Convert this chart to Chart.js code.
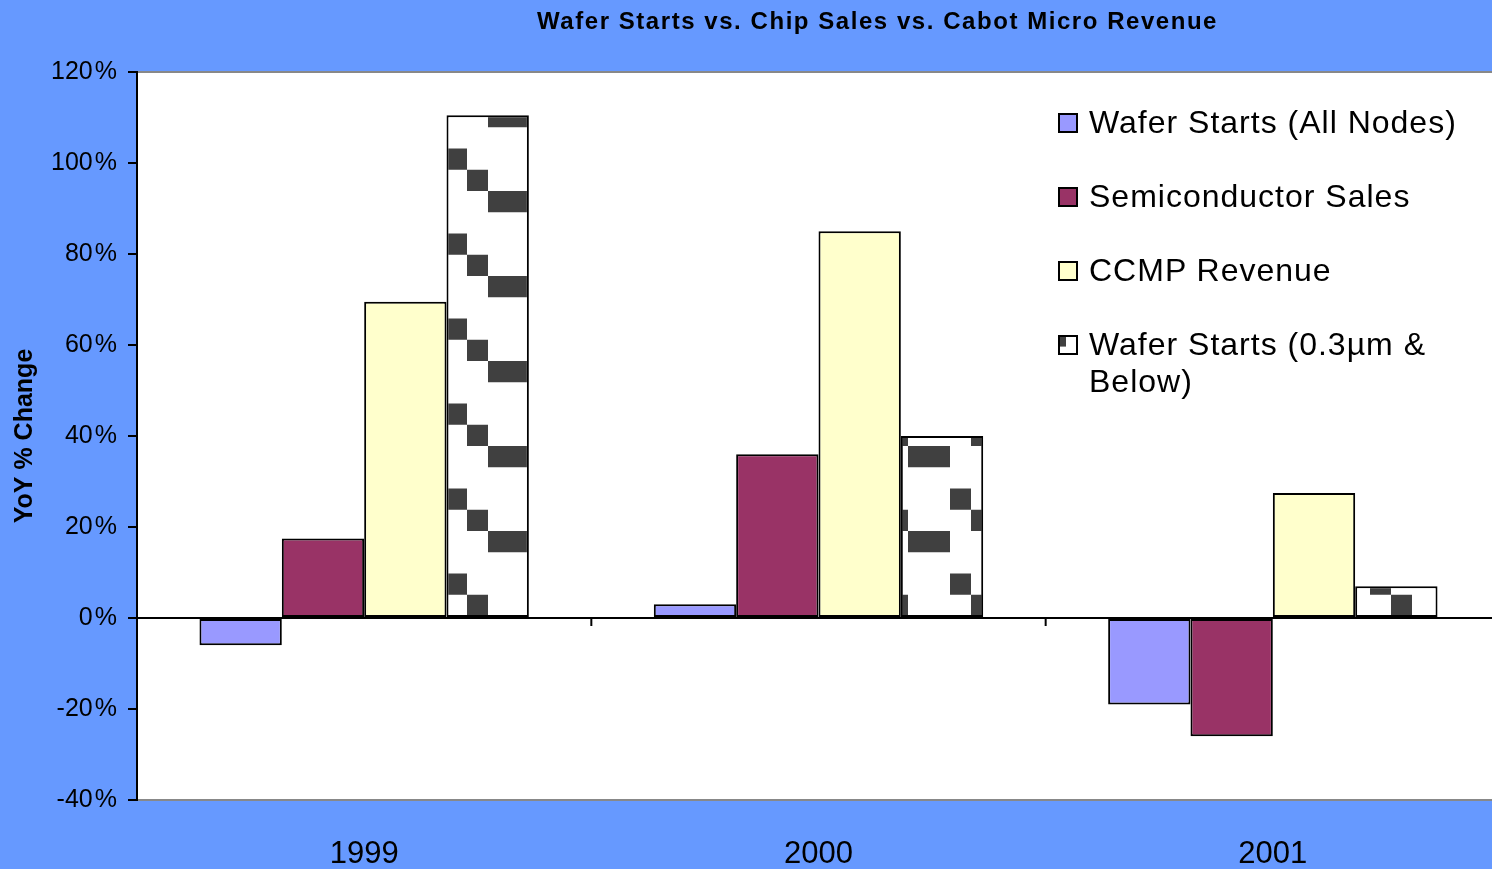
<!DOCTYPE html>
<html>
<head>
<meta charset="utf-8">
<script src="https://cdn.jsdelivr.net/npm/chart.js@4/dist/chart.umd.min.js"></script>
<style>
  html, body { margin: 0; padding: 0; overflow: hidden; background: #6699FF; }
  #wrap { position: relative; width: 1500px; height: 869px; }
  #title {
    position: absolute; left: 537px; top: 7px; white-space: nowrap;
    font: bold 24px "Liberation Sans", Arial, sans-serif; color: #000; letter-spacing: 1.55px;
  }
  #legend {
    position: absolute; left: 1058px; top: 104px;
    font: 32px "Liberation Sans", Arial, sans-serif; color: #000; letter-spacing: 1px;
  }
  .item { position: relative; padding-left: 31px; line-height: 37px; margin-bottom: 37px; }
  .box { position: absolute; left: 0; top: 9px; width: 16px; height: 16px; border: 2px solid #000; }
</style>
</head>
<body>
<div id="wrap">
  <canvas id="chart" width="1500" height="869"></canvas>
  <div id="title">Wafer Starts vs. Chip Sales vs. Cabot Micro Revenue</div>
  <div id="legend"></div>
</div>
<script>
const years = ['1999', '2000', '2001'];
const seriesNames = ['Wafer Starts (All Nodes)', 'Semiconductor Sales', 'CCMP Revenue', 'Wafer Starts (0.3µm & Below)'];
const waferAll = [-6, 3, -19];
const chipSales = [17.5, 36, -26];
const ccmpRevenue = [69.5, 85, 27.5];
const waferSmall = [110.5, 40, 7];
const yTicks = [-40, -20, 0, 20, 40, 60, 80, 100, 120];

// checker-ish pattern used by the 0.3um series
function makePattern(ctx) {
  const tile = document.createElement('canvas');
  tile.width = 84; tile.height = 85;
  const t = tile.getContext('2d');
  t.fillStyle = '#fff';
  t.fillRect(0, 0, 84, 85);
  t.fillStyle = '#404040';
  const h = 85 / 4;
  t.fillRect(42, 0, 42, h);
  t.fillRect(0, 2 * h, 21, h);
  t.fillRect(21, 3 * h, 21, h);
  const p = ctx.createPattern(tile, 'repeat');
  p.setTransform(new DOMMatrix().translate(446 % 84, 106 % 85));
  return p;
}

const canvas = document.getElementById('chart');
const ctx = canvas.getContext('2d');
const pattern = makePattern(ctx);

const fills = ['#9999FF', '#993366', '#FFFFCC', pattern];
const values = [waferAll, chipSales, ccmpRevenue, waferSmall];

// html legend, last entry wraps like the original
const legendEl = document.getElementById('legend');
seriesNames.forEach((name, i) => {
  const item = document.createElement('div');
  item.className = 'item';
  const box = document.createElement('span');
  box.className = 'box';
  if (i === 3) {
    box.style.background = 'linear-gradient(90deg, #404040 0 40%, #fff 40%) top left / 100% 60% no-repeat, #fff';
  } else {
    box.style.background = fills[i];
  }
  item.appendChild(box);
  if (i === 3) {
    item.appendChild(document.createTextNode(name.replace(' Below)', '')));
    item.appendChild(document.createElement('br'));
    item.appendChild(document.createTextNode('Below)'));
  } else {
    item.appendChild(document.createTextNode(name));
  }
  legendEl.appendChild(item);
});

const plotArea = {
  id: 'plotArea',
  beforeDraw(chart) {
    const {ctx, chartArea: a} = chart;
    ctx.save();
    ctx.fillStyle = '#fff';
    ctx.fillRect(a.left, a.top, a.right - a.left, a.bottom - a.top);
    ctx.strokeStyle = '#888';
    ctx.lineWidth = 2;
    ctx.beginPath();
    ctx.moveTo(a.left, a.top);
    ctx.lineTo(a.right, a.top);
    ctx.stroke();
    ctx.restore();
  },
  afterDatasetsDraw(chart) {
    // category tick marks hanging from the zero line
    const {ctx, scales: {x, y}} = chart;
    const y0 = y.getPixelForValue(0);
    ctx.save();
    ctx.strokeStyle = '#000';
    ctx.lineWidth = 2;
    for (let i = 1; i < years.length; i++) {
      const px = (x.getPixelForTick(i - 1) + x.getPixelForTick(i)) / 2;
      ctx.beginPath();
      ctx.moveTo(px, y0);
      ctx.lineTo(px, y0 + 8);
      ctx.stroke();
    }
    ctx.restore();
  }
};

new Chart(canvas, {
  type: 'bar',
  data: {
    labels: years,
    datasets: seriesNames.map((name, i) => ({
      label: name,
      data: values[i],
      backgroundColor: fills[i],
      borderColor: '#000',
      borderWidth: 2,
      borderSkipped: false,
      barPercentage: 1,
      categoryPercentage: 0.725
    }))
  },
  options: {
    responsive: false,
    animation: false,
    layout: {padding: {top: 72, left: 0, right: 0, bottom: 0}},
    plugins: {
      legend: {display: false},
      tooltip: {enabled: false}
    },
    scales: {
      x: {
        afterFit: s => { s.height = 69; },
        grid: {display: false},
        border: {color: '#888', width: 2},
        ticks: {
          color: '#000',
          padding: 28,
          font: {family: 'Liberation Sans, Arial', size: 31}
        }
      },
      y: {
        min: -40,
        max: 120,
        afterFit: s => { s.width = 137; },
        afterBuildTicks: s => { s.ticks = yTicks.map(v => ({value: v})); },
        border: {color: '#000', width: 2},
        grid: {
          color: c => (c.tick && c.tick.value === 0 ? '#000' : 'transparent'),
          tickColor: '#000',
          lineWidth: 2,
          tickLength: 9
        },
        ticks: {
          color: '#000',
          padding: 11,
          font: {family: 'Liberation Sans, Arial', size: 25},
          callback: v => v + '\u200A%'
        },
        title: {
          display: true,
          text: 'YoY % Change',
          color: '#000',
          padding: {top: 10, bottom: 0},
          font: {family: 'Liberation Sans, Arial', size: 25, weight: 'bold'}
        }
      }
    }
  },
  plugins: [plotArea]
});
</script>
</body>
</html>
